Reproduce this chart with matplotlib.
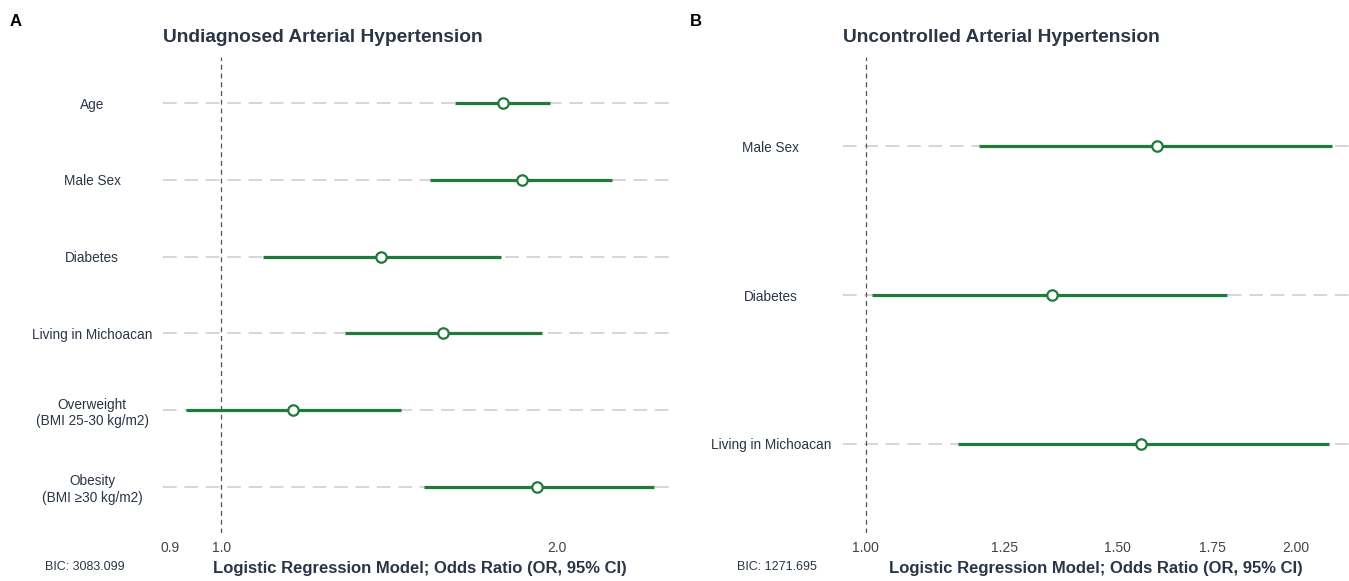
import numpy as np
import matplotlib
matplotlib.use("Agg")
import matplotlib.pyplot as plt

plt.rcParams['font.family'] = ['Liberation Sans', 'DejaVu Sans']

# panel A: undiagnosed hypertension
labels_a = ["Age", "Male Sex", "Diabetes", "Living in Michoacan",
            "Overweight\n(BMI 25-30 kg/m2)", "Obesity\n(BMI \u226530 kg/m2)"]
or_a = [1.79, 1.86, 1.39, 1.58, 1.16, 1.92]
lo_a = [1.62, 1.54, 1.09, 1.29, 0.93, 1.52]
hi_a = [1.97, 2.24, 1.78, 1.94, 1.45, 2.44]
ticks_a = [0.9, 1.0, 2.0]
ticklab_a = ["0.9", "1.0", "2.0"]
bic_a = "BIC: 3083.099"

# panel B: uncontrolled hypertension
labels_b = ["Male Sex", "Diabetes", "Living in Michoacan"]
or_b = [1.60, 1.35, 1.56]
lo_b = [1.20, 1.01, 1.16]
hi_b = [2.12, 1.79, 2.11]
ticks_b = [1.0, 1.25, 1.5, 1.75, 2.0]
ticklab_b = ["1.00", "1.25", "1.50", "1.75", "2.00"]
bic_b = "BIC: 1271.695"

green = "#1f7a3c"
navy = "#2a3547"
xlab = "Logistic Regression Model; Odds Ratio (OR, 95% CI)"

fig = plt.figure(figsize=(13.49, 5.81), dpi=100)
axA = fig.add_axes([0.1208, 0.0826, 0.3803, 0.8193])
axB = fig.add_axes([0.6249, 0.0826, 0.3751, 0.8193])


def forest(ax, labels, est, lo, hi, ticks, ticklab, xlim, title, pad):
    n = len(labels)
    y = np.arange(n)[::-1]
    ax.set_xscale('log')
    for yi in y:
        ax.axhline(yi, color="#d6d6d6", lw=1.4, ls=(0, (7, 4)), zorder=1)
    ax.axvline(1.0, color="#555555", lw=0.9, ls=(0, (4, 3)), zorder=1)
    ax.hlines(y, lo, hi, color=green, lw=2.3, zorder=2)
    ax.plot(est, y, 'o', ms=7.5, mfc='white', mec=green, mew=1.6, zorder=3)
    ax.set_xlim(*xlim)
    ax.set_ylim(-0.6, n - 1 + 0.6)
    ax.set_yticks(y)
    ax.set_yticklabels(labels, ha='center', color=navy, fontsize=9.8)
    for t in ax.get_yticklabels():
        t.set_linespacing(1.22)
    ax.tick_params(axis='y', length=0, pad=pad)
    ax.xaxis.set_minor_locator(matplotlib.ticker.NullLocator())
    ax.set_xticks(ticks)
    ax.set_xticklabels(ticklab, color="#444444", fontsize=10)
    ax.tick_params(axis='x', length=0, pad=6)
    for s in ax.spines.values():
        s.set_visible(False)
    ax.set_title(title, loc='left', fontsize=13.8, fontweight='bold', color=navy, pad=11)
    ax.set_xlabel(xlab, fontsize=12, fontweight='bold', color=navy, labelpad=4)


forest(axA, labels_a, or_a, lo_a, hi_a, ticks_a, ticklab_a, (0.887, 2.555),
       "Undiagnosed Arterial Hypertension", 51)
forest(axB, labels_b, or_b, lo_b, hi_b, ticks_b, ticklab_b, (0.964, 2.18),
       "Uncontrolled Arterial Hypertension", 52)

fig.text(0.0334, 0.019, bic_a, fontsize=9, color=navy)
fig.text(0.5463, 0.019, bic_b, fontsize=9, color=navy)
fig.text(0.0074, 0.955, "A", fontsize=12, fontweight='bold', color='black')
fig.text(0.5115, 0.955, "B", fontsize=12, fontweight='bold', color='black')

fig.savefig("out.png", dpi=100)
